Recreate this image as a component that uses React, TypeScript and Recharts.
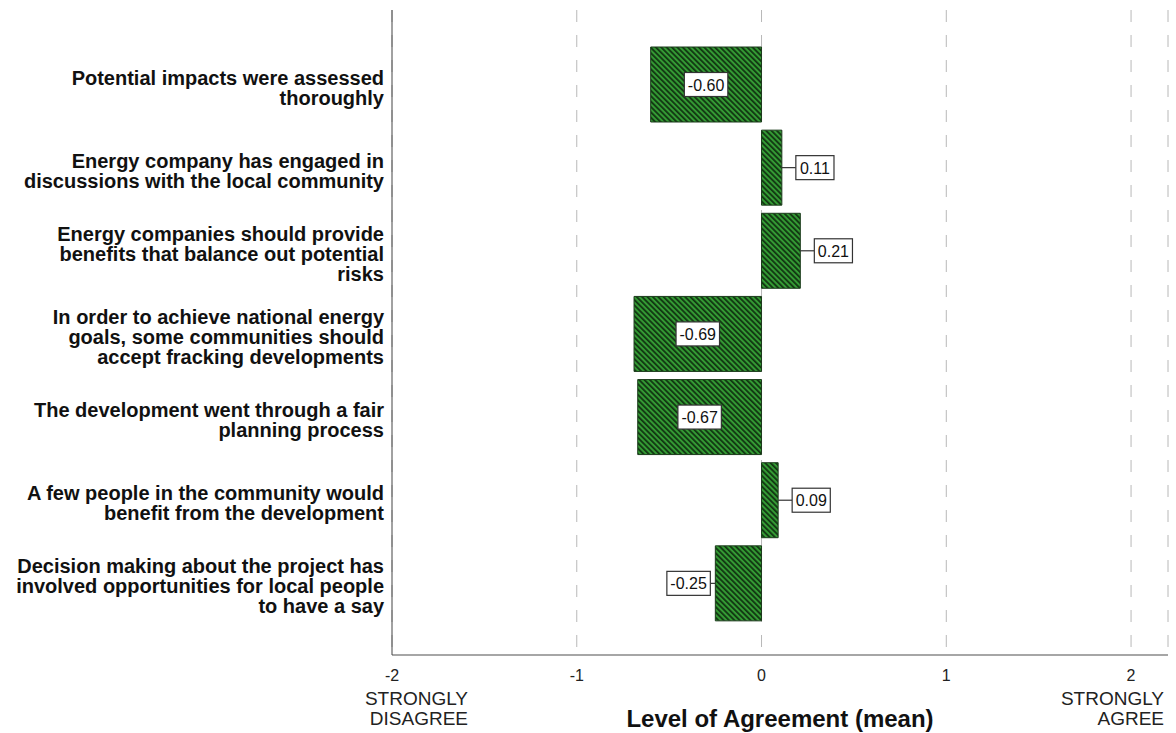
import { BarChart, Bar, XAxis, YAxis, CartesianGrid, LabelList } from 'recharts';

const statements = [
  'Potential impacts were assessed\nthoroughly',
  'Energy company has engaged in\ndiscussions with the local community',
  'Energy companies should provide\nbenefits that balance out potential\nrisks',
  'In order to achieve national energy\ngoals, some communities should\naccept fracking developments',
  'The development went through a fair\nplanning process',
  'A few people in the community would\nbenefit from the development',
  'Decision making about the project has\ninvolved opportunities for local people\nto have a say',
];
const means = [-0.6, 0.11, 0.21, -0.69, -0.67, 0.09, -0.25];
const xTicks = [-2, -1, 0, 1, 2];
const xDomain = [-2, 2.2];
const axisTitle = 'Level of Agreement (mean)';
const lowAnchor = ['STRONGLY', 'DISAGREE'];
const highAnchor = ['STRONGLY', 'AGREE'];

const data = statements.map((label, i) => ({ label, mean: means[i] }));

const FONT = 'Arial, "Liberation Sans", sans-serif';

// rough Arial widths for the value boxes
function textWidth(s: string, size: number) {
  let w = 0;
  for (const c of s) w += c === '.' ? 0.278 : c === '-' ? 0.333 : 0.556;
  return w * size;
}

function CategoryTick({ x, y, payload }: any) {
  const lines = String(payload.value).split('\n');
  const first = y + 10 - (lines.length - 1) * 10;
  return (
    <text x={x} y={first} textAnchor="end" fontFamily={FONT} fontSize={20} fontWeight="bold" fill="#111">
      {lines.map((l, i) => (
        <tspan key={i} x={x} y={first + i * 20}>
          {l}
        </tspan>
      ))}
    </text>
  );
}

function ValueTick({ x, y, payload }: any) {
  const v = payload.value;
  const extra = v === -2 ? lowAnchor : v === 2 ? highAnchor : null;
  const ex = v === -2 ? x + 76 : x + 33;
  return (
    <g fontFamily={FONT} fill="#222">
      <text x={x} y={y + 18} textAnchor="middle" fontSize={16}>
        {v}
      </text>
      {extra &&
        extra.map((t, i) => (
          <text key={i} x={ex} y={y + 42 + i * 20} textAnchor="end" fontSize={19}>
            {t}
          </text>
        ))}
    </g>
  );
}

function ValueBox(props: any) {
  const { x, y, width, height, value } = props;
  const txt = Number(value).toFixed(2);
  const left = Math.min(x, x + width);
  const right = Math.max(x, x + width);
  const cy = y + height / 2;
  const bw = textWidth(txt, 16) + 7;
  const bh = 24;
  let bx: number;
  let lead: [number, number] | null = null;
  if (value < 0 && right - left > bw + 20) {
    bx = (left + right) / 2 - bw / 2;
  } else if (value < 0) {
    bx = left - 5 - bw;
    lead = [left - 5, left];
  } else {
    bx = right + 14;
    lead = [right, right + 14];
  }
  return (
    <g>
      {lead && <line x1={lead[0]} x2={lead[1]} y1={cy} y2={cy} stroke="#333" strokeWidth={1.2} />}
      <rect x={bx} y={cy - bh / 2} width={bw} height={bh} fill="#fff" stroke="#333" strokeWidth={1.2} />
      <text x={bx + bw / 2} y={cy + 6} textAnchor="middle" fontFamily={FONT} fontSize={16} fill="#111">
        {txt}
      </text>
    </g>
  );
}

function AxisTitle({ viewBox }: any) {
  const { x, y, width } = viewBox;
  return (
    <text x={x + width / 2} y={y + 72} textAnchor="middle" fontFamily={FONT} fontSize={24} fontWeight="bold" fill="#111">
      {axisTitle}
    </text>
  );
}

export default function App() {
  return (
    <div style={{ position: 'absolute', left: 0, top: 0, width: 1176, height: 733, background: '#fff' }}>
      <BarChart
        width={1176}
        height={733}
        data={data}
        layout="vertical"
        margin={{ top: 10, right: 8, bottom: 0, left: 0 }}
        barCategoryGap={4}
      >
        <defs>
          <pattern id="hatch" patternUnits="userSpaceOnUse" width={3.8} height={3.8} patternTransform="rotate(-45)">
            <rect width={3.8} height={3.8} fill="#349a34" />
            <line x1={0.9} y1={0} x2={0.9} y2={3.8} stroke="#0d2a0d" strokeWidth={1.6} />
          </pattern>
        </defs>
        <CartesianGrid horizontal={false} stroke="#b8b8b8" strokeDasharray="12 13" />
        <XAxis
          type="number"
          dataKey="mean"
          domain={xDomain}
          ticks={xTicks}
          allowDataOverflow
          height={78}
          tickLine={false}
          axisLine={{ stroke: '#888', strokeWidth: 1.5 }}
          tick={<ValueTick />}
          interval={0}
          label={<AxisTitle />}
        />
        <YAxis
          type="category"
          dataKey="label"
          width={392}
          tickLine={false}
          axisLine={{ stroke: '#444' }}
          tick={<CategoryTick />}
          interval={0}
          padding={{ top: 33, bottom: 30 }}
        />
        <Bar dataKey="mean" fill="url(#hatch)" stroke="#1b3b1b" strokeWidth={1} isAnimationActive={false}>
          <LabelList dataKey="mean" content={<ValueBox />} />
        </Bar>
      </BarChart>
    </div>
  );
}
